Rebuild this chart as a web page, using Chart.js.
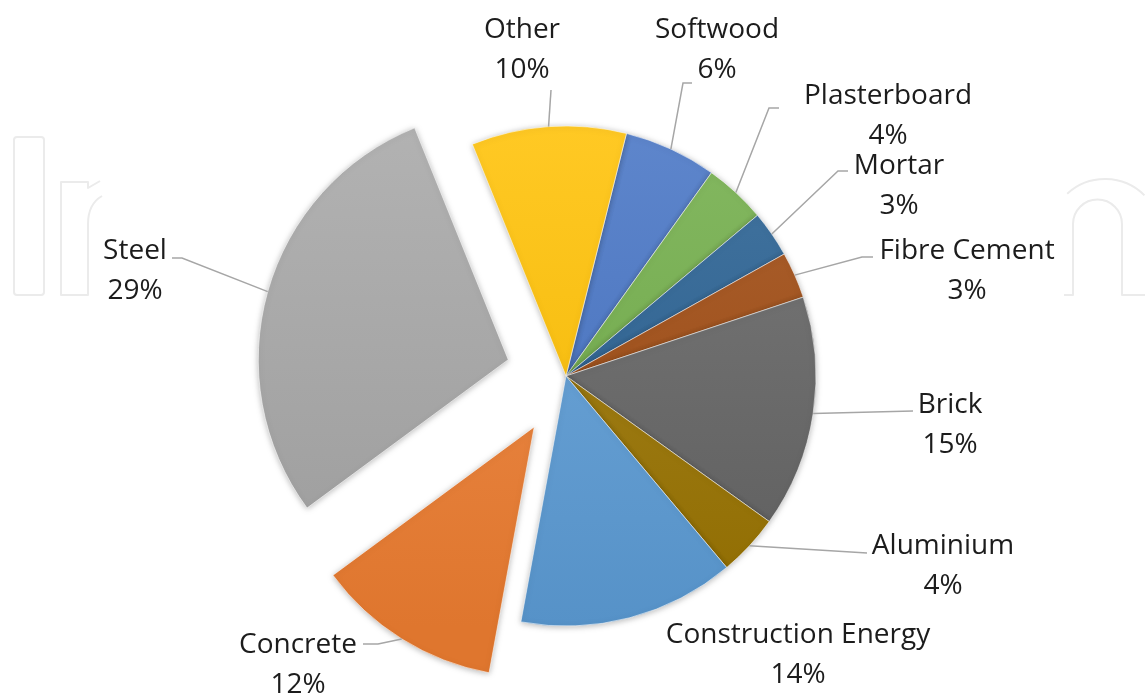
<!DOCTYPE html>
<html>
<head>
<meta charset="utf-8">
<title>Material share pie</title>
<script src="https://cdn.jsdelivr.net/npm/chart.js@4.4.1/dist/chart.umd.min.js"></script>
<style>
  html, body { margin: 0; padding: 0; background: #fff; }
  #wrap { width: 1145px; height: 694px; position: relative; }
</style>
</head>
<body>
<div id="wrap"><canvas id="chart"></canvas></div>
<script>
/* ---------- data ---------- */
const categories = ['Softwood', 'Plasterboard', 'Mortar', 'Fibre Cement', 'Brick',
  'Aluminium', 'Construction Energy', 'Concrete', 'Steel', 'Other'];
const shares = [6, 4, 3, 3, 15, 4, 14, 12, 29, 10];

/* ---------- style ---------- */
const colors = ['#4472C4', '#70AD47', '#255E91', '#9E480E', '#636363',
  '#997300', '#5B9BD5', '#ED7D31', '#A5A5A5', '#FFC000'];
const explode = [0, 0, 0, 0, 0, 0, 0, 60, 60, 0];   // px pulled out of the pie
// label: centre x / middle y of the name line, leader end near the label, horizontal stub
const labelLayout = [
  { x: 717, y: 27,  lx: 692, ly: 83,  stub: -9 },
  { x: 888, y: 93,  lx: 779, ly: 108, stub: -10 },
  { x: 899, y: 163, lx: 848, ly: 171, stub: -10 },
  { x: 967, y: 248, lx: 873, ly: 257, stub: -11 },
  { x: 950, y: 402, lx: 913, ly: 411, stub: 0 },
  { x: 943, y: 543, lx: 867, ly: 553, stub: 0 },
  { x: 798, y: 632, lx: null },
  { x: 298, y: 642, lx: 363, ly: 644, stub: 15 },
  { x: 135, y: 248, lx: 172, ly: 258, stub: 10 },
  { x: 522, y: 27,  lx: 551, ly: 90,  stub: 0 }
];
const FONT = '28px "Open Sans", "DejaVu Sans", sans-serif';

function shade(hex, amt) {
  const n = parseInt(hex.slice(1), 16);
  const ch = [(n >> 16) & 255, (n >> 8) & 255, n & 255].map(c => {
    const v = amt >= 0 ? c + (255 - c) * amt : c * (1 + amt);
    return Math.round(Math.max(0, Math.min(255, v)));
  });
  return `rgb(${ch[0]},${ch[1]},${ch[2]})`;
}

/* faint publisher watermark behind the chart */
const watermark = {
  id: 'watermark',
  beforeDraw(chart) {
    const ctx = chart.ctx;
    ctx.save();
    ctx.strokeStyle = '#ebebeb';
    ctx.lineWidth = 2;
    ctx.lineJoin = 'round';
    ctx.beginPath();
    ctx.roundRect(14, 137, 30, 158, 3);
    ctx.stroke();
    // left "n" (cut off)
    ctx.beginPath();
    ctx.moveTo(102, 196);
    ctx.quadraticCurveTo(88, 204, 88, 224);
    ctx.lineTo(88, 295);
    ctx.lineTo(61, 295);
    ctx.lineTo(61, 182);
    ctx.lineTo(88, 182);
    ctx.lineTo(88, 188);
    ctx.lineTo(100, 181);
    ctx.stroke();
    // right "n" (cut off)
    ctx.beginPath();
    ctx.moveTo(1064, 295);
    ctx.lineTo(1073, 295);
    ctx.lineTo(1073, 224);
    ctx.arc(1097.5, 224, 24.5, Math.PI, 0);
    ctx.lineTo(1122, 295);
    ctx.lineTo(1145, 295);
    ctx.stroke();
    ctx.beginPath();
    ctx.ellipse(1105, 235, 56, 56, 0, Math.PI + 0.83, -0.79);
    ctx.stroke();
    ctx.restore();
  }
};

/* pull the exploded slices out along their mid angle */
const explodeSlices = {
  id: 'explodeSlices',
  afterDatasetsUpdate(chart) {
    chart.getDatasetMeta(0).data.forEach((arc, i) => {
      const d = explode[i];
      if (!d) return;
      const mid = (arc.startAngle + arc.endAngle) / 2;
      arc.x += Math.cos(mid) * d;
      arc.y += Math.sin(mid) * d;
    });
  }
};

/* soft shadow + outside labels with leader lines */
const pieLabels = {
  id: 'pieLabels',
  beforeDatasetsDraw(chart) {
    const ctx = chart.ctx;
    ctx.save();
    ctx.shadowColor = 'rgba(0,0,0,0.28)';
    ctx.shadowBlur = 6;
    ctx.shadowOffsetY = 1;
  },
  afterDatasetsDraw(chart) {
    const ctx = chart.ctx;
    ctx.restore();
    const arcs = chart.getDatasetMeta(0).data;
    ctx.save();
    ctx.strokeStyle = '#a6a6a6';
    ctx.lineWidth = 1.5;
    arcs.forEach((arc, i) => {
      const lab = labelLayout[i];
      if (lab.lx === null) return;
      const mid = (arc.startAngle + arc.endAngle) / 2;
      const ex = arc.x + Math.cos(mid) * arc.outerRadius;
      const ey = arc.y + Math.sin(mid) * arc.outerRadius;
      ctx.beginPath();
      ctx.moveTo(ex, ey);
      ctx.lineTo(lab.lx + lab.stub, lab.ly);
      ctx.lineTo(lab.lx, lab.ly);
      ctx.stroke();
    });
    ctx.font = FONT;
    ctx.fillStyle = '#1c1c1c';
    ctx.textAlign = 'center';
    ctx.textBaseline = 'alphabetic';
    arcs.forEach((arc, i) => {
      const lab = labelLayout[i];
      ctx.fillText(categories[i], lab.x, lab.y + 11);
      ctx.fillText(shares[i] + '%', lab.x, lab.y + 51);
    });
    ctx.restore();
  }
};

new Chart(document.getElementById('chart'), {
  type: 'pie',
  data: {
    labels: categories,
    datasets: [{
      data: shares,
      backgroundColor: (c) => {
        const base = colors[c.dataIndex];
        const area = c.chart.chartArea;
        if (!area) return base;
        const cy = (area.top + area.bottom) / 2;
        const g = c.chart.ctx.createLinearGradient(0, cy - 250, 0, cy + 250);
        g.addColorStop(0, shade(base, 0.14));
        g.addColorStop(1, shade(base, -0.06));
        return g;
      },
      borderColor: 'rgba(255,255,255,0.55)',
      borderWidth: 1
    }]
  },
  options: {
    responsive: true,
    maintainAspectRatio: false,
    animation: false,
    rotation: 14,
    radius: 250,
    layout: { padding: { left: 0, right: 13, top: 58, bottom: 0 } },
    plugins: {
      legend: { display: false },
      tooltip: { enabled: false }
    }
  },
  plugins: [watermark, explodeSlices, pieLabels]
});
</script>
</body>
</html>
